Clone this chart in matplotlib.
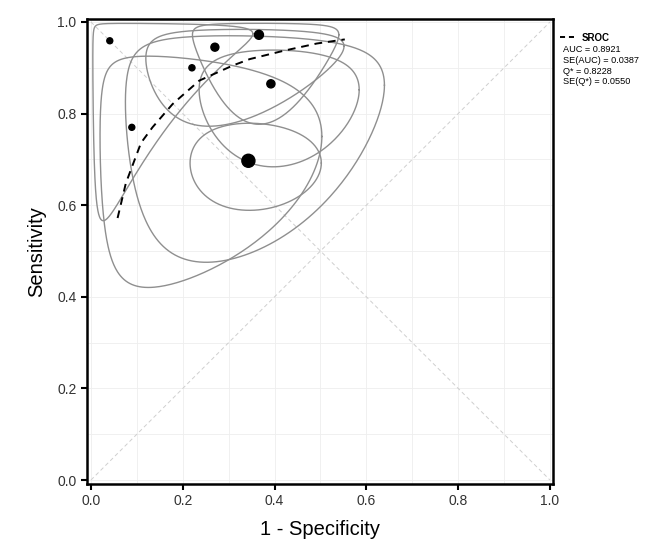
import numpy as np
import matplotlib
matplotlib.use("Agg")
import matplotlib.pyplot as plt
from matplotlib.lines import Line2D

plt.rcParams['font.family'] = ['Liberation Sans', 'DejaVu Sans']

# study estimates (1 - specificity, sensitivity)
fpr = [0.041, 0.089, 0.220, 0.270, 0.366, 0.392, 0.343]
sens = [0.959, 0.770, 0.900, 0.945, 0.972, 0.865, 0.697]
n_study = [42, 42, 44, 75, 95, 78, 200]

# confidence regions: centre and standard errors on the logit scale
region_fpr = [0.045, 0.125, 0.275, 0.290, 0.366, 0.397, 0.345]
region_sens = [0.954, 0.750, 0.844, 0.935, 0.972, 0.852, 0.692]
se_logit_fpr = [1.00, 0.80, 0.63, 0.45, 0.29, 0.31, 0.265]
se_logit_sens = [1.13, 0.58, 0.73, 0.59, 0.94, 0.40, 0.184]
corr = [0.22, 0.0, 0.08, 0.15, 0.0, 0.0, 0.0]

# SROC curve
sroc_fpr = [0.058, 0.076, 0.109, 0.134, 0.178, 0.236, 0.309, 0.346, 0.419, 0.492, 0.553]
sroc_sens = [0.572, 0.648, 0.736, 0.770, 0.821, 0.872, 0.905, 0.919, 0.937, 0.953, 0.962]

stats = ["AUC = 0.8921", "SE(AUC) = 0.0387", "Q* = 0.8228", "SE(Q*) = 0.0550"]


def logit(p):
    p = np.asarray(p, dtype=float)
    return np.log(p / (1 - p))


def expit(x):
    return 1 / (1 + np.exp(-x))


def conf_region(cx, cy, sx, sy, r, level_r=np.sqrt(5.991), npts=400):
    # 95% ellipse in logit space, mapped back to ROC space
    cov = np.array([[sx * sx, r * sx * sy], [r * sx * sy, sy * sy]])
    L = np.linalg.cholesky(cov)
    t = np.linspace(0, 2 * np.pi, npts)
    circ = np.vstack([np.cos(t), np.sin(t)]) * level_r
    pts = L @ circ
    return expit(cx + pts[0]), expit(cy + pts[1])


fig = plt.figure(figsize=(6.49, 5.42), dpi=100)
ax = fig.add_axes([0.134, 0.107, 0.718, 0.858])

# faint grid
for v in np.arange(0, 1.01, 0.1):
    ax.axvline(v, color='#eeeeee', lw=0.6, zorder=0)
    ax.axhline(v, color='#eeeeee', lw=0.6, zorder=0)

ax.plot([0, 1], [0, 1], color='#cfcfcf', lw=0.7, ls=(0, (4, 3)), zorder=1)
ax.plot([0, 1], [1, 0], color='#cfcfcf', lw=0.7, ls=(0, (4, 3)), zorder=1)

cx = logit(region_fpr)
cy = logit(region_sens)
for i in range(len(region_fpr)):
    ex, ey = conf_region(cx[i], cy[i], se_logit_fpr[i], se_logit_sens[i], corr[i])
    ax.plot(ex, ey, color='#8f8f8f', lw=1.0, zorder=2)

ax.plot(sroc_fpr, sroc_sens, color='black', lw=1.4, ls=(0, (4, 3)), zorder=3)

ax.scatter(fpr, sens, s=np.array(n_study) * 0.44, color='black', zorder=4)

ax.set_xlim(-0.0087, 1.0065)
ax.set_ylim(-0.0087, 1.0066)
ticks = np.arange(0, 1.01, 0.2)
ax.set_xticks(ticks)
ax.set_yticks(ticks)
ax.set_xticklabels([f"{v:.1f}" for v in ticks])
ax.set_yticklabels([f"{v:.1f}" for v in ticks])
ax.tick_params(direction='out', length=4, width=1.5, labelsize=10, colors='black', labelcolor='#333333')
for s in ax.spines.values():
    s.set_linewidth(1.8)

ax.set_xlabel("1 - Specificity", fontsize=14.5, labelpad=8)
ax.set_ylabel("Sensitivity", fontsize=14.5, labelpad=8)

# legend and statistics outside the panel
leg = ax.legend(handles=[Line2D([], [], color='black', lw=1.4, ls=(0, (2.6, 2.0)))], labels=['SROC'],
                loc='upper left', bbox_to_anchor=(1.0, 0.985), frameon=False,
                handlelength=1.7, handletextpad=0.6, borderaxespad=0.3,
                prop={'size': 7, 'weight': 'bold'})
for k, txt in enumerate(stats):
    ax.text(1.022, 0.935 - k * 0.0235, txt, transform=ax.transAxes, fontsize=6.6,
            ha='left', va='center', color='black')

fig.savefig("out.png", dpi=100)
